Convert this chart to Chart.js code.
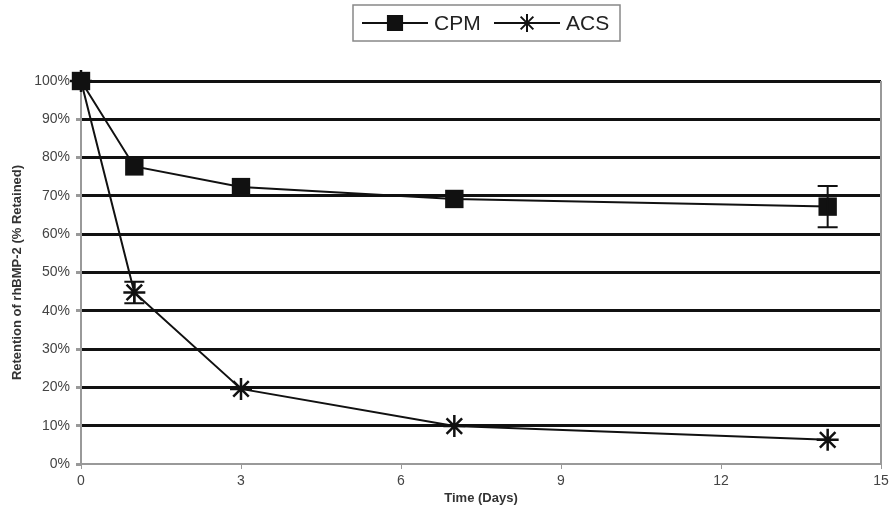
<!DOCTYPE html>
<html>
<head>
<meta charset="utf-8">
<script src="https://cdn.jsdelivr.net/npm/chart.js@4"></script>
<style>
  html, body { margin: 0; padding: 0; background: #fff; }
  #wrap { width: 895px; height: 512px; }
</style>
</head>
<body>
<div id="wrap"><canvas id="chart" width="895" height="512"></canvas></div>
<script>
const days = [0, 1, 3, 7, 14];
const cpmValues = [100, 77.7, 72.3, 69.2, 67.2];
const cpmErrors = [0, 0, 0, 0, 5.4];
const acsValues = [100, 44.8, 19.6, 9.9, 6.3];
const acsErrors = [0, 2.8, 0, 0, 0];
const xTicks = [0, 3, 6, 9, 12, 15];
const yTicks = [0, 10, 20, 30, 40, 50, 60, 70, 80, 90, 100];

const toPoints = (vals, errs) =>
  days.map((d, i) => ({ x: d, y: vals[i], err: errs[i] }));

// error bars drawn with the chart's own scales
const errorBars = {
  id: "errorBars",
  afterDatasetsDraw(chart) {
    const { ctx, scales } = chart;
    ctx.save();
    ctx.strokeStyle = "#111";
    ctx.lineWidth = 2;
    chart.data.datasets.forEach((ds) => {
      ds.data.forEach((p) => {
        if (!p.err) return;
        const x = scales.x.getPixelForValue(p.x);
        const top = scales.y.getPixelForValue(p.y + p.err);
        const bot = scales.y.getPixelForValue(p.y - p.err);
        ctx.beginPath();
        ctx.moveTo(x, top); ctx.lineTo(x, bot);
        ctx.moveTo(x - 10, top); ctx.lineTo(x + 10, top);
        ctx.moveTo(x - 10, bot); ctx.lineTo(x + 10, bot);
        ctx.stroke();
      });
    });
    ctx.restore();
  },
};

// right edge of the plot + boxed legend with line-and-marker samples
const frameAndLegend = {
  id: "frameAndLegend",
  afterDraw(chart) {
    const { ctx, chartArea } = chart;
    ctx.save();
    ctx.strokeStyle = "#999";
    ctx.lineWidth = 2;
    ctx.beginPath();
    ctx.moveTo(chartArea.right, chartArea.top);
    ctx.lineTo(chartArea.right, chartArea.bottom);
    ctx.stroke();

    ctx.strokeStyle = "#888";
    ctx.lineWidth = 1.5;
    ctx.strokeRect(353, 5, 267, 36);

    const items = [
      { x: 362, ds: chart.data.datasets[0] },
      { x: 494, ds: chart.data.datasets[1] },
    ];
    ctx.font = "21px 'Liberation Sans', Arial, sans-serif";
    ctx.textBaseline = "middle";
    items.forEach(({ x, ds }) => {
      ctx.strokeStyle = "#111";
      ctx.fillStyle = "#111";
      ctx.lineWidth = 2;
      ctx.beginPath();
      ctx.moveTo(x, 23); ctx.lineTo(x + 66, 23);
      ctx.stroke();
      Chart.helpers.drawPoint(ctx, {
        pointStyle: ds.pointStyle,
        radius: ds.pointStyle === "rect" ? 10 : 9,
        borderWidth: 3,
      }, x + 33, 23);
      ctx.fillStyle = "#222";
      ctx.fillText(ds.label, x + 72, 24);
    });
    ctx.restore();
  },
};

new Chart(document.getElementById("chart"), {
  type: "line",
  data: {
    datasets: [
      {
        label: "CPM",
        data: toPoints(cpmValues, cpmErrors),
        borderColor: "#111",
        backgroundColor: "#111",
        borderWidth: 2,
        pointStyle: "rect",
        pointRadius: 13,
        pointBorderWidth: 0,
        clip: false,
      },
      {
        label: "ACS",
        data: toPoints(acsValues, acsErrors),
        borderColor: "#111",
        backgroundColor: "#111",
        borderWidth: 2,
        pointStyle: "star",
        pointRadius: 11,
        pointBorderWidth: 2.5,
        clip: false,
      },
    ],
  },
  options: {
    responsive: false,
    animation: false,
    layout: { padding: { top: 81, right: 14 } },
    plugins: {
      legend: { display: false },
      tooltip: { enabled: false },
    },
    scales: {
      x: {
        type: "linear",
        min: 0,
        max: 15,
        afterBuildTicks: (s) => { s.ticks = xTicks.map((v) => ({ value: v })); },
        afterFit: (s) => { s.height = 48; },
        grid: { drawOnChartArea: false, tickColor: "#999", tickLength: 5 },
        border: { color: "#999", width: 2 },
        ticks: {
          color: "#444",
          font: { family: "'Liberation Sans', Arial", size: 14 },
          padding: 4,
        },
        title: {
          display: true,
          text: "Time (Days)",
          color: "#333",
          font: { family: "'Liberation Sans', Arial", size: 13, weight: "bold" },
          padding: { top: 0, bottom: 6 },
        },
      },
      y: {
        min: 0,
        max: 100,
        afterBuildTicks: (s) => { s.ticks = yTicks.map((v) => ({ value: v })); },
        afterFit: (s) => { s.width = 81; },
        grid: {
          color: (c) => (c.tick && c.tick.value === 0 ? "rgba(0,0,0,0)" : "#111"),
          lineWidth: 3,
          tickColor: "#999",
          tickLength: 5,
        },
        border: { color: "#999", width: 2 },
        ticks: {
          color: "#444",
          font: { family: "'Liberation Sans', Arial", size: 14 },
          padding: 6,
          callback: (v) => v + "%",
        },
        title: {
          display: true,
          text: "Retention of rhBMP-2 (% Retained)",
          color: "#333",
          font: { family: "'Liberation Sans', Arial", size: 13, weight: "bold" },
          padding: { top: 10, bottom: 2 },
        },
      },
    },
  },
  plugins: [errorBars, frameAndLegend],
});
</script>
</body>
</html>
